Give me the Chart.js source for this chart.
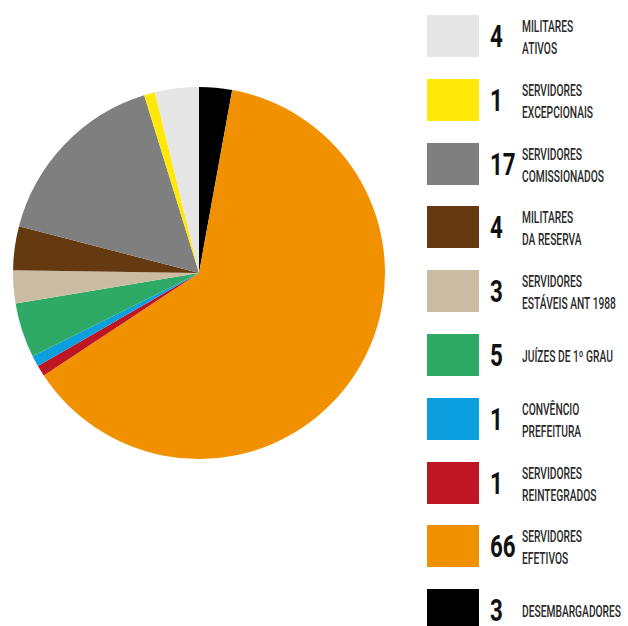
<!DOCTYPE html>
<html>
<head>
<meta charset="utf-8">
<script src="https://cdn.jsdelivr.net/npm/chart.js@4/dist/chart.umd.min.js"></script>
<style>
  body { margin: 0; background: #fff; width: 628px; height: 626px; overflow: hidden; position: relative; font-family: Roboto, "Liberation Sans", sans-serif; }
  #pie { position: absolute; left: 13px; top: 87px; width: 372px; height: 372px; }
  .row { position: absolute; left: 427px; width: 200px; height: 42px; }
  .sw { position: absolute; left: 0; top: 0; width: 52px; height: 42px; }
  .num { position: absolute; left: 63px; top: 1px; height: 42px; line-height: 42px; font-size: 31px; font-weight: 700; color: #111; transform: scaleX(0.72); transform-origin: left center; }
  .lbl { position: absolute; left: 95px; top: 2px; height: 42px; display: flex; flex-direction: column; justify-content: center; font-size: 16px; line-height: 22px; font-weight: 500; color: #2a2a2a; white-space: nowrap; transform: scaleX(0.64); transform-origin: left center; }
</style>
</head>
<body>
<div id="pie"><canvas id="chart"></canvas></div>
<div id="legend"></div>
<script>
// legend order, top to bottom
const labels = [
  ["MILITARES", "ATIVOS"],
  ["SERVIDORES", "EXCEPCIONAIS"],
  ["SERVIDORES", "COMISSIONADOS"],
  ["MILITARES", "DA RESERVA"],
  ["SERVIDORES", "ESTÁVEIS ANT 1988"],
  ["JUÍZES DE 1º GRAU"],
  ["CONVÊNCIO", "PREFEITURA"],
  ["SERVIDORES", "REINTEGRADOS"],
  ["SERVIDORES", "EFETIVOS"],
  ["DESEMBARGADORES"]
];
const values = [4, 1, 17, 4, 3, 5, 1, 1, 66, 3];
const colors = ["#e6e6e6", "#ffe80a", "#7f7f7f", "#653a10", "#cbbca1", "#2eaa66", "#0c9fe0", "#be1622", "#f29100", "#000000"];

// build the legend rows
const legend = document.getElementById("legend");
labels.forEach((lines, i) => {
  const row = document.createElement("div");
  row.className = "row";
  row.style.top = (15 + i * 63.8) + "px";
  row.innerHTML =
    '<div class="sw" style="background:' + colors[i] + '"></div>' +
    '<div class="num">' + values[i] + '</div>' +
    '<div class="lbl">' + lines.map(t => "<div>" + t + "</div>").join("") + '</div>';
  legend.appendChild(row);
});

// pie goes clockwise from 12 o'clock, reverse of the legend
new Chart(document.getElementById("chart"), {
  type: "pie",
  data: {
    labels: labels.map(l => l.join(" ")).reverse(),
    datasets: [{
      data: values.slice().reverse(),
      backgroundColor: colors.slice().reverse(),
      borderWidth: 0
    }]
  },
  options: {
    responsive: true,
    maintainAspectRatio: false,
    animation: false,
    layout: { padding: 0 },
    plugins: {
      legend: { display: false },
      tooltip: { enabled: false }
    }
  }
});
</script>
</body>
</html>
